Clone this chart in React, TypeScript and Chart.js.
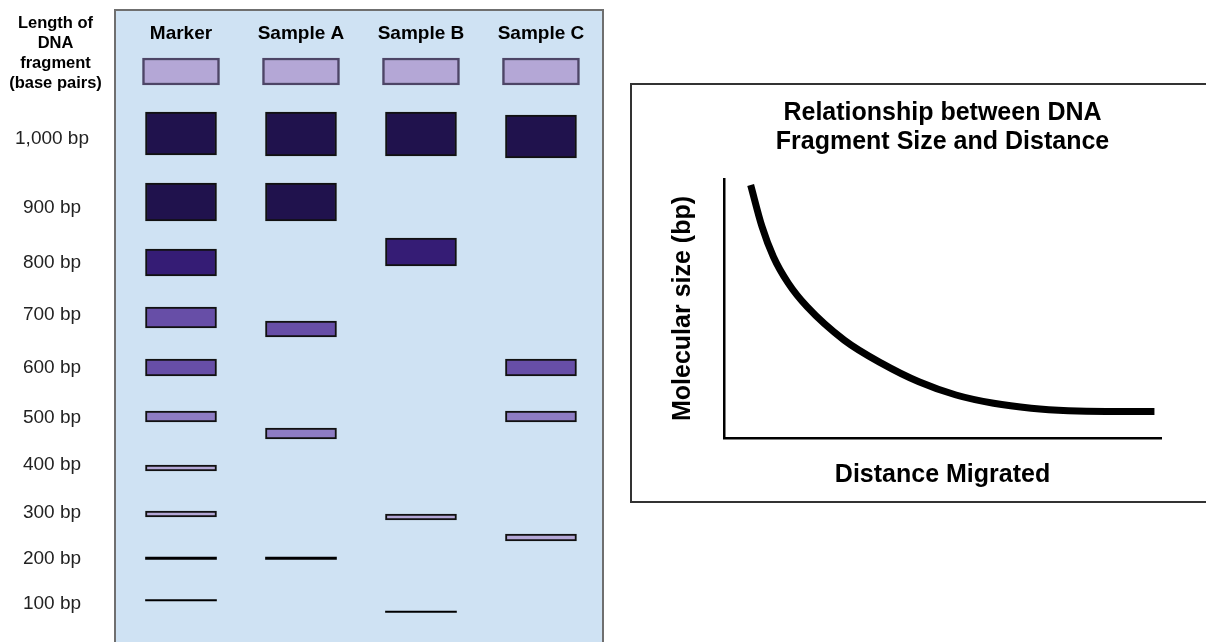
import React, { useEffect, useRef } from 'react';
import { Chart, registerables } from 'chart.js';

Chart.register(...registerables);

const FONT = "'Liberation Sans', Arial, Helvetica, sans-serif";
Chart.defaults.font.family = FONT;

// ---------- Gel data ----------
const lanes = ['Marker', 'Sample A', 'Sample B', 'Sample C'];
const yAxisHeader = ['Length of', 'DNA', 'fragment', '(base pairs)'];
const ladderLabels = ['1,000 bp', '900 bp', '800 bp', '700 bp', '600 bp', '500 bp', '400 bp', '300 bp', '200 bp', '100 bp'];
// distance from the top of the gel at which each ladder label sits
const ladderPositions = [129, 198, 253, 305, 358, 408, 455, 503, 549, 594];
// loading wells: [start, end] distance from gel top
const wellRange: [number, number] = [48, 75];

// bands: [start, end] distance migrated (from gel top); sizes are estimated bp
const markerBands: [number, number][] = [
  [102, 145], [173, 211], [239, 266], [297, 318], [349, 366],
  [401, 412], [455, 461], [501, 507], [547, 549.5], [589.5, 591],
];
const markerSizes = [1000, 900, 800, 700, 600, 500, 400, 300, 200, 100];

const sampleABands: [number, number][] = [[102, 146], [173, 211], [311, 327], [418, 429], [547, 549.5]];
const sampleASizes = [1000, 900, 680, 470, 200];

const sampleBBands: [number, number][] = [[102, 146], [228, 256], [504, 510], [601, 602.5]];
const sampleBSizes = [1000, 820, 290, 80];

const sampleCBands: [number, number][] = [[105, 148], [349, 366], [401, 412], [524, 531]];
const sampleCSizes = [1000, 600, 500, 250];

// ---------- Curve data ----------
const chartTitle = ['Relationship between DNA', 'Fragment Size and Distance'];
const xTitle = 'Distance Migrated';
const yTitle = 'Molecular size (bp)';
const distanceMigrated = [6.1, 8.7, 11.3, 14.7, 19.0, 27.5, 36.1, 44.6, 53.1, 61.7, 70.3, 78.8, 87.4, 98.5];
const molecularSize = [97.7, 81.6, 70.0, 59.8, 50.7, 37.8, 28.8, 21.7, 16.6, 13.4, 11.5, 10.5, 10.2, 10.2];

const bandColor = (bp: number) =>
  bp >= 900 ? '#20124d' :
  bp >= 750 ? '#351c75' :
  bp >= 550 ? '#674ea7' :
  bp >= 450 ? '#8e7cc3' :
  bp >= 250 ? '#b4a7d6' : '#000000';

const gelPlugin = {
  id: 'gelBackground',
  beforeDraw(chart: any) {
    const { ctx, chartArea } = chart;
    const { left, top, right } = chartArea;
    const h = chart.height;
    ctx.save();
    ctx.fillStyle = '#cfe2f3';
    ctx.fillRect(left, top, right - left, h - top);
    ctx.strokeStyle = '#6f6f6f';
    ctx.lineWidth = 2;
    ctx.beginPath();
    ctx.moveTo(left, h + 5);
    ctx.lineTo(left, top);
    ctx.lineTo(right, top);
    ctx.lineTo(right, h + 5);
    ctx.stroke();
    ctx.restore();
  },
  afterDraw(chart: any) {
    const { ctx } = chart;
    ctx.save();
    ctx.fillStyle = '#000';
    ctx.font = `bold 16.5px ${FONT}`;
    ctx.textAlign = 'center';
    ctx.textBaseline = 'middle';
    yAxisHeader.forEach((line, i) => ctx.fillText(line, 55.5, 23 + i * 20));
    ctx.restore();
  },
};

function laneDataset(bands: [number, number][], sizes: number[], lane: number) {
  return {
    label: lanes[lane],
    data: bands.map((b) => ({ x: lane, y: b })),
    backgroundColor: (c: any) => bandColor(sizes[c.dataIndex] ?? 1000),
    borderColor: '#111111',
    borderWidth: (c: any) => ((sizes[c.dataIndex] ?? 1000) <= 200 ? 0 : 2),
    borderSkipped: false,
    grouped: false,
    barThickness: 71,
  };
}

function GelChart() {
  const ref = useRef<HTMLCanvasElement>(null);
  useEffect(() => {
    if (!ref.current) return;
    const chart = new Chart(ref.current, {
      type: 'bar',
      data: {
        datasets: [
          {
            label: 'Wells',
            data: lanes.map((_, i) => ({ x: i, y: wellRange })),
            backgroundColor: '#b4a7d6',
            borderColor: '#4d4566',
            borderWidth: 2.5,
            borderSkipped: false,
            grouped: false,
            barThickness: 77,
          } as any,
          laneDataset(markerBands, markerSizes, 0) as any,
          laneDataset(sampleABands, sampleASizes, 1) as any,
          laneDataset(sampleBBands, sampleBSizes, 2) as any,
          laneDataset(sampleCBands, sampleCSizes, 3) as any,
        ],
      },
      options: {
        responsive: false,
        animation: false,
        layout: { padding: { left: 0, right: 17, top: 10, bottom: 0 } },
        plugins: { legend: { display: false }, tooltip: { enabled: false }, title: { display: false } },
        scales: {
          x: {
            type: 'linear',
            position: 'top',
            min: -0.55,
            max: 3.517,
            offset: false,
            grid: { display: false, drawTicks: false },
            border: { display: false },
            afterBuildTicks: (s: any) => { s.ticks = lanes.map((_, i) => ({ value: i })); },
            afterFit: (s: any) => {
              s.height = 0;
              s.paddingLeft = 0; s.paddingRight = 0; s.paddingTop = 0; s.paddingBottom = 0;
            },
            ticks: {
              autoSkip: false,
              maxRotation: 0,
              minRotation: 0,
              mirror: true,
              padding: 12.4,
              color: '#000',
              font: { size: 19, weight: 'bold' },
              callback: (_v: any, i: number) => lanes[i],
            },
          },
          y: {
            type: 'linear',
            reverse: true,
            min: 0,
            max: 632,
            grid: { display: false, drawTicks: false },
            border: { display: false },
            afterBuildTicks: (s: any) => { s.ticks = ladderPositions.map((v) => ({ value: v })); },
            afterFit: (s: any) => {
              s.width = 115;
              s.paddingLeft = 0; s.paddingRight = 0; s.paddingTop = 0; s.paddingBottom = 0;
            },
            ticks: {
              autoSkip: false,
              crossAlign: 'center',
              padding: 26,
              color: '#222',
              font: { size: 19 },
              callback: (_v: any, i: number) => ladderLabels[i],
            },
          },
        },
      } as any,
      plugins: [gelPlugin],
    });
    return () => chart.destroy();
  }, []);
  return (
    <canvas
      ref={ref}
      width={620}
      height={642}
      style={{ position: 'absolute', left: 0, top: 0, width: 620, height: 642 }}
    />
  );
}

function CurveChart() {
  const ref = useRef<HTMLCanvasElement>(null);
  useEffect(() => {
    if (!ref.current) return;
    const chart = new Chart(ref.current, {
      type: 'scatter',
      data: {
        datasets: [
          {
            label: 'Fragment size vs distance',
            data: distanceMigrated.map((x, i) => ({ x, y: molecularSize[i] })),
            showLine: true,
            borderColor: '#000',
            borderWidth: 7,
            pointRadius: 0,
            fill: false,
            cubicInterpolationMode: 'monotone',
            clip: false,
          } as any,
        ],
      },
      options: {
        responsive: false,
        animation: false,
        layout: { padding: { left: 0, right: 45, top: 0, bottom: 0 } },
        plugins: {
          legend: { display: false },
          tooltip: { enabled: false },
          title: {
            display: true,
            text: chartTitle,
            fullSize: false,
            align: 'center',
            color: '#000',
            font: { size: 25, weight: 'bold', lineHeight: 1.16 },
            padding: { top: 13.5, bottom: 22.5 },
          },
        },
        scales: {
          x: {
            type: 'linear',
            min: 0,
            max: 100,
            grid: { display: false, drawTicks: false },
            border: { display: true, color: '#000', width: 2.5 },
            ticks: { display: false },
            title: {
              display: true,
              text: xTitle,
              color: '#000',
              font: { size: 25, weight: 'bold', lineHeight: 1.2 },
              padding: { top: 22, bottom: 11 },
            },
          },
          y: {
            type: 'linear',
            min: 0,
            max: 100,
            grid: { display: false, drawTicks: false },
            border: { display: true, color: '#000', width: 2.5 },
            ticks: { display: false },
            title: {
              display: true,
              text: yTitle,
              color: '#000',
              font: { size: 25, weight: 'bold', lineHeight: 1.2 },
              padding: { top: 36.5, bottom: 25.5 },
            },
          },
        },
      } as any,
    });
    return () => chart.destroy();
  }, []);
  return (
    <div
      style={{
        position: 'absolute',
        left: 630,
        top: 83,
        width: 580,
        height: 416,
        border: '2px solid #333',
        background: '#fff',
      }}
    >
      <canvas ref={ref} width={574} height={416} style={{ display: 'block', width: 574, height: 416 }} />
    </div>
  );
}

export default function App() {
  return (
    <div
      style={{
        position: 'fixed',
        left: 0,
        top: 0,
        width: 1206,
        height: 642,
        overflow: 'hidden',
        background: '#fff',
      }}
    >
      <GelChart />
      <CurveChart />
    </div>
  );
}
